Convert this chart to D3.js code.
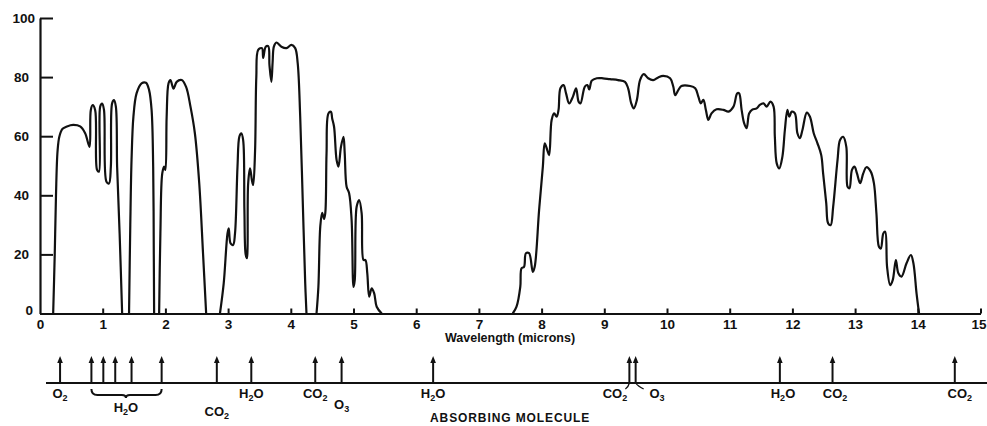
<!DOCTYPE html>
<html>
<head>
<meta charset="utf-8">
<script src="https://cdnjs.cloudflare.com/ajax/libs/d3/7.8.5/d3.min.js"></script>
<style>
  body { margin: 0; background: #fff; }
  svg { display: block; }
  .tick text, .lbl { font-family: "Liberation Sans", Arial, sans-serif; font-weight: bold; fill: #111; }
</style>
</head>
<body>
<div id="chart"></div>
<script>
var svgWidth = 987;
var svgHeight = 426;

// transmission windows, [wavelength (microns), transmission %]
var win1 = [[0.21,0],[0.235,20],[0.255,40],[0.28,55],[0.31,60],[0.36,62.5],[0.43,63.3],[0.53,63.8],[0.64,63.3],[0.72,61],[0.79,56.4],[0.81,68.8],[0.84,70.5],[0.88,68.8],[0.91,48.6],[0.94,48],[0.96,70],[0.99,71],[1.02,69],[1.06,44.6],[1.1,44],[1.13,49.7],[1.15,71.1],[1.18,72.2],[1.21,70],[1.23,49.7],[1.27,27],[1.31,0]];
var win2 = [[1.42,0],[1.44,30],[1.46,52],[1.49,66.6],[1.54,74.5],[1.62,77.9],[1.69,78.1],[1.74,75.6],[1.78,68.8],[1.805,49.7],[1.815,20],[1.82,0]];
var win3 = [[1.9,0],[1.92,27],[1.95,47.4],[1.98,49.7],[2.0,48.6],[2.02,66.6],[2.05,77.9],[2.08,79],[2.13,76.1],[2.18,78.4],[2.26,79],[2.33,76.7],[2.4,70],[2.47,61],[2.54,44],[2.6,20.4],[2.65,0]];
var win4 = [[2.87,0],[2.93,10.2],[2.99,27],[3.01,28.8],[3.04,23.7],[3.08,23.2],[3.11,27],[3.15,49.7],[3.18,59.9],[3.21,61],[3.24,58.7],[3.26,35],[3.28,20],[3.30,18.7],[3.31,22],[3.32,44],[3.35,49.1],[3.38,45.1],[3.40,43.5],[3.43,55],[3.45,80],[3.48,89.2],[3.54,89.8],[3.56,86.5],[3.60,90.3],[3.64,90.5],[3.66,84],[3.69,78.4],[3.71,85],[3.73,90.3],[3.77,91.7],[3.85,90.3],[3.93,89.8],[4.01,90.9],[4.07,89.8],[4.11,84.7],[4.15,66.6],[4.19,38.4],[4.23,10.2],[4.25,0]];
var win5 = [[4.41,0],[4.44,9],[4.47,29.4],[4.50,34.1],[4.53,32],[4.55,34],[4.57,54.2],[4.60,67.7],[4.64,68.3],[4.66,66],[4.69,63.2],[4.73,52],[4.76,49.7],[4.80,56.4],[4.84,59.8],[4.86,54.2],[4.89,42.9],[4.93,40.7],[4.97,31.6],[5.0,9],[5.02,11.3],[5.05,36.1],[5.09,38.4],[5.13,33.9],[5.16,18.1],[5.19,18.1],[5.22,13.6],[5.25,5.7],[5.29,8.5],[5.33,6.8],[5.37,2.3],[5.45,0]];
var win6 = [[7.54,0],[7.60,2.3],[7.66,9],[7.68,15.3],[7.72,15.8],[7.75,20.4],[7.80,20.4],[7.86,14.1],[7.89,15.8],[7.96,35],[8.02,49.7],[8.05,57.6],[8.09,55.3],[8.12,53.6],[8.16,65.5],[8.20,67.7],[8.24,66.6],[8.27,68.9],[8.30,76.2],[8.35,77.3],[8.39,74.5],[8.44,71.1],[8.50,73.4],[8.55,76.2],[8.59,71.7],[8.62,71.1],[8.69,76.8],[8.73,77.3],[8.76,75.8],[8.80,78.8],[8.88,79.6],[8.98,79.6],[9.09,79.3],[9.22,79],[9.33,78.4],[9.38,76.2],[9.43,71.1],[9.47,69.4],[9.52,72.3],[9.57,79],[9.63,81],[9.70,79.6],[9.78,79],[9.86,79.9],[9.94,80.4],[10.05,79.6],[10.1,76.8],[10.13,73.9],[10.18,75.6],[10.23,77],[10.37,77],[10.45,76.2],[10.50,73.4],[10.54,71.1],[10.58,72.3],[10.62,68.9],[10.66,65.5],[10.71,67.7],[10.79,69.1],[10.90,68.9],[10.98,68.3],[11.06,70],[11.12,74.5],[11.15,74.5],[11.19,68.9],[11.23,64.4],[11.27,62.7],[11.31,67.7],[11.36,69],[11.43,69.4],[11.48,70.6],[11.54,71.1],[11.59,70],[11.65,71.7],[11.70,70],[11.72,59.8],[11.75,50.8],[11.79,49.1],[11.84,53],[11.88,62.1],[11.92,68.9],[11.95,66.6],[11.99,68.3],[12.04,67.7],[12.08,61],[12.12,59.3],[12.16,62.1],[12.23,68],[12.28,66.6],[12.34,61],[12.40,57.6],[12.46,53.6],[12.49,47.4],[12.54,37.3],[12.57,30.5],[12.61,29.9],[12.65,36.1],[12.72,52],[12.76,58.7],[12.81,59.8],[12.86,56.4],[12.88,42.9],[12.91,42.4],[12.95,48.6],[12.99,49.7],[13.03,47.4],[13.08,44.1],[13.13,47.4],[13.18,49.5],[13.25,48],[13.30,44.1],[13.34,33.9],[13.38,22.6],[13.41,22],[13.45,27.1],[13.48,27.7],[13.51,15.8],[13.56,9.6],[13.60,11.3],[13.65,18.1],[13.69,13.6],[13.74,12.5],[13.82,17],[13.89,19.8],[13.93,17],[13.98,6.8],[14.02,0]];
var windows = [win1, win2, win3, win4, win5, win6];

var xTicks = d3.range(0, 16);
var yTicks = [0, 20, 40, 60, 80, 100];

// absorption band arrows (microns)
var bandPos = [0.32, 0.82, 1.01, 1.2, 1.46, 1.94, 2.82, 3.37, 4.39, 4.81, 6.27, 9.4, 9.5, 11.8, 12.64, 14.59];
// molecule labels: text parts [main, subscript, tail], position, row
var molText = [["O","2",""],["H","2","O"],["CO","2",""],["H","2","O"],["CO","2",""],["O","3",""],["H","2","O"],["CO","2",""],["O","3",""],["H","2","O"],["CO","2",""],["CO","2",""]];
var molPos  = [0.32, 1.37, 2.82, 3.37, 4.39, 4.81, 6.27, 9.17, 9.84, 11.85, 12.68, 14.67];
var molRow  = [0, 1, 2, 0, 0, 1, 0, 0, 0, 0, 0, 0];

var svg = d3.select("#chart")
  .append("svg")
  .attr("width", svgWidth)
  .attr("height", svgHeight);

var x = d3.scaleLinear().domain([0, 15]).range([40, 980.5]);
var y = d3.scaleLinear().domain([0, 100]).range([313.5, 18]);

// axes
var xAxis = svg.append("g")
  .attr("transform", `translate(0, ${y(0)})`)
  .call(d3.axisBottom(x).tickValues(xTicks).tickSizeInner(-5).tickSizeOuter(0).tickPadding(6).tickFormat(d3.format("d")));

var yAxis = svg.append("g")
  .attr("transform", `translate(${x(0)}, 0)`)
  .call(d3.axisLeft(y).tickValues(yTicks).tickSizeInner(-13).tickSizeOuter(0).tickPadding(11).tickFormat(d3.format("d")));

svg.selectAll(".domain").attr("stroke", "#111").attr("stroke-width", 2.2);
svg.selectAll(".tick line").attr("stroke", "#111").attr("stroke-width", 2);
svg.selectAll(".tick text").attr("font-size", 13.5);
yAxis.selectAll(".tick text").filter(d => d === 100).attr("x", -5);
yAxis.selectAll(".tick text").filter(d => d === 0).attr("x", -7).attr("dy", "0.1em");
xAxis.selectAll(".tick").filter(d => d === 0).select("line").remove();
// keep the last label inside the frame
xAxis.selectAll(".tick text").filter(d => d === 15).attr("text-anchor", "end").attr("x", 5.5);

svg.append("text")
  .attr("class", "lbl")
  .attr("x", 510)
  .attr("y", 342)
  .attr("text-anchor", "middle")
  .attr("font-size", 12.5)
  .text("Wavelength (microns)");

// transmission curve
var line = d3.line()
  .x(d => x(d[0]))
  .y(d => y(d[1]))
  .curve(d3.curveCatmullRom.alpha(0.5));

svg.selectAll(".win")
  .data(windows)
  .enter()
  .append("path")
  .attr("class", "win")
  .attr("d", line)
  .attr("fill", "none")
  .attr("stroke", "#111")
  .attr("stroke-width", 2.2)
  .attr("stroke-linejoin", "round");

// absorbing molecule strip
var baseY = 383;
svg.append("line")
  .attr("x1", 46).attr("x2", 987)
  .attr("y1", baseY).attr("y2", baseY)
  .attr("stroke", "#111").attr("stroke-width", 2.2);

var arrows = svg.selectAll(".band")
  .data(bandPos)
  .enter()
  .append("g")
  .attr("class", "band")
  .attr("transform", d => `translate(${x(d)}, 0)`);

arrows.append("line")
  .attr("y1", baseY).attr("y2", 361)
  .attr("stroke", "#111").attr("stroke-width", 2);

arrows.append("path")
  .attr("d", "M0,356 L-2.8,363 L2.8,363 Z")
  .attr("fill", "#111");

var rowY = [398, 412, 416];
var labels = svg.selectAll(".mol")
  .data(molPos)
  .enter()
  .append("text")
  .attr("class", "lbl mol")
  .attr("x", d => x(d))
  .attr("y", (d, i) => rowY[molRow[i]] - (i === 5 ? 3 : 0))
  .attr("text-anchor", "middle")
  .attr("font-size", 13);

labels.each(function(d, i) {
  var t = d3.select(this);
  var parts = molText[i];
  t.append("tspan").text(parts[0]);
  t.append("tspan").attr("font-size", 9).attr("dy", 3).text(parts[1]);
  if (parts[2]) t.append("tspan").attr("dy", -3).text(parts[2]);
});

// brace under the near-infrared water bands
var bx1 = x(0.82), bx2 = x(1.94), bxc = x(1.37), by = 395;
svg.append("path")
  .attr("d", `M${bx1},${by - 6} Q${bx1},${by} ${bx1 + 6},${by} L${bxc - 4},${by} Q${bxc},${by} ${bxc},${by + 3} Q${bxc},${by} ${bxc + 4},${by} L${bx2 - 6},${by} Q${bx2},${by} ${bx2},${by - 6}`)
  .attr("fill", "none")
  .attr("stroke", "#111")
  .attr("stroke-width", 2);

// leaders for the 9.4 / 9.6 micron pair
var lx1 = x(9.4), lx2 = x(9.5);
svg.append("path")
  .attr("d", `M${lx1},${baseY} Q${lx1 - 1},${baseY + 4} ${lx1 - 4},${baseY + 6}`)
  .attr("fill", "none").attr("stroke", "#111").attr("stroke-width", 1.3);
svg.append("path")
  .attr("d", `M${lx2},${baseY} Q${lx2 + 2},${baseY + 3} ${lx2 + 8},${baseY + 6}`)
  .attr("fill", "none").attr("stroke", "#111").attr("stroke-width", 1.3);

svg.append("text")
  .attr("class", "lbl")
  .attr("x", 430)
  .attr("y", 422)
  .attr("font-size", 12)
  .attr("letter-spacing", 0.9)
  .text("ABSORBING MOLECULE");
</script>
</body>
</html>
